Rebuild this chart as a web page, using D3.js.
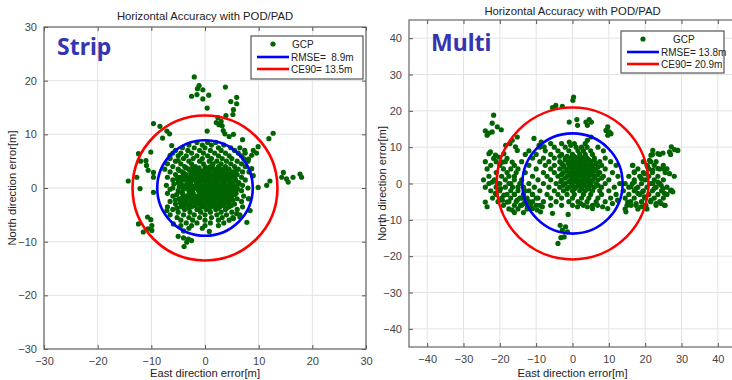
<!DOCTYPE html>
<html>
<head>
<meta charset="utf-8">
<script src="https://cdn.jsdelivr.net/npm/d3@7"></script>
<style>
  body { margin: 0; background: #fff; }
  svg { display: block; font-family: "Liberation Sans", Arial, sans-serif; }
</style>
</head>
<body>
<svg id="chart" width="732" height="380"></svg>
<script>
// ---- data (metres, east / north) ----
const titleText = "Horizontal Accuracy with POD/PAD";
const xLabelText = "East direction error[m]";
const yLabelText = "North direction error[m]";

// Strip: scattered points outside the dense core
const stripOuter = [
  [-2.0, 20.7], [-1.1, 19.1], [-1.4, 18.5], [-0.4, 18.3], [-2.5, 17.1], [-1.5, 17.4],
  [-0.4, 16.6], [0.7, 17.3], [3.8, 18.8], [5.9, 16.9], [4.8, 16.1], [5.9, 15.7],
  [0.4, 14.9], [5.3, 14.6], [5.2, 13.7], [3.9, 13.5], [2.4, 13.1], [3.0, 12.4],
  [2.6, 11.8], [3.2, 11.6], [2.1, 12.2], [-9.6, 12.0], [-8.4, 11.5], [-7.1, 10.6],
  [-6.6, 10.1], [-7.9, 9.3], [0.4, 10.6], [3.4, 10.7], [3.7, 10.1], [5.3, 10.0],
  [4.5, 9.6], [12.7, 10.2], [11.9, 9.2], [7.0, 9.0], [9.9, 7.7], [9.0, 7.0],
  [9.6, 6.5], [8.7, 6.1], [8.1, 5.4], [-6.2, 7.9], [-10.1, 6.7], [-12.4, 6.4],
  [-11.0, 5.1], [-12.0, 5.0], [-6.5, 6.1], [-5.0, 5.1], [7.4, 7.0],
  [-14.3, 1.3], [-12.7, 2.0], [-10.9, 4.2], [-10.6, 3.3], [-9.6, 2.9], [-9.6, 2.0],
  [-12.1, -0.1], [-9.6, -0.8], [-7.1, -4.2], [-12.4, -6.7], [-10.7, -5.4], [-10.1, -5.9],
  [-9.9, -7.0], [-10.6, -7.6], [-11.5, -8.2], [-9.9, -7.9], [-5.9, -6.7], [-5.0, -9.0],
  [-4.0, -9.3], [-3.1, -9.5], [-2.5, -9.8], [-3.4, -10.1], [-3.9, -10.9], [0.8, -8.1],
  [7.8, -6.4], [6.5, -5.4], [5.9, -4.8], [5.3, -5.7], [8.4, -4.2], [8.1, -2.0],
  [9.9, 0.1], [11.5, 0.5], [12.1, 1.3], [14.3, 2.0], [14.6, 2.9], [15.2, 1.7],
  [15.5, 1.1], [16.4, 2.0], [17.7, 2.6], [18.0, 2.0], [8.7, 3.6], [9.0, 2.3]
];

// Strip: dense core, one entry per row [north, [east values]]
const stripCoreRows = [
  [8.5, [-1.5, 0.5, 2.0]],
  [8.0, [-3, -0.5, 1.2, 3.5]],
  [7.5, [-4.2, -2, 0, 2.5, 4.8, 6.5]],
  [7.0, [-5.5, -3.2, -1, 1, 3, 5.5]],
  [6.5, [-6, -4.5, -2.5, -0.3, 1.8, 3.8, 6.2, 7.5]],
  [6.0, [-5, -3.5, -1.5, 0.5, 2.5, 4.5, 6.8]],
  [5.5, [-6.5, -4, -2.2, -0.5, 1.2, 3.2, 5, 7.2]],
  [5.0, [-5.5, -3, -1, 0.8, 2.2, 4, 6, 8]],
  [4.5, [-7, -4.5, -2.5, -0.3, 1.5, 3, 4.8, 6.8]],
  [4.0, [-6, -3.8, -1.8, 0, 1, 2.5, 3.8, 5.5, 7.5]],
  [3.75, [-3.5, -2.3, -1.1, 0.2, 1.4, 2.6, 3.9]],
  [3.5, [-7.5, -5, -3, -1.2, 0.5, 1.8, 3.2, 4.5, 6.2]],
  [3.25, [-4.8, -2.8, -1.6, -0.3, 0.9, 2.1, 3.4, 5.8]],
  [3.0, [-6.5, -4.2, -2.2, -0.5, 1, 2.5, 4, 5.2, 7, 8.2]],
  [2.75, [-3.9, -2.6, -1.2, 0.3, 1.8, 3.3, 4.9]],
  [2.5, [-5.5, -3.5, -1.5, 0, 1.5, 3, 4.5, 6]],
  [2.25, [-4.1, -2.2, -0.6, 0.9, 2.6, 4.1, 5.6]],
  [2.0, [-7, -4.8, -2.8, -1, 0.5, 2, 3.5, 5, 6.8]],
  [1.75, [-5.2, -3.3, -1.4, 0.1, 1.6, 3.1, 4.6]],
  [1.5, [-6, -4, -2, -0.3, 1.2, 2.7, 4.2, 5.7, 7.5]],
  [1.25, [-4.5, -2.6, -0.8, 0.7, 2.3, 3.8, 5.4]],
  [1.0, [-5, -3.2, -1.5, 0, 1.8, 3.2, 4.8, 6.3]],
  [0.75, [-5.8, -3.4, -1.6, 0, 1.5, 3.1, 4.6, 6.2]],
  [0.5, [-7.2, -4.2, -2.5, -0.8, 0.8, 2.3, 3.8, 5.3, 7]],
  [0.25, [-4.8, -2.8, -1, 0.6, 2.2, 3.7, 5.2]],
  [0.0, [-6, -3.5, -1.8, 0, 1.5, 3, 4.5, 6, 8]],
  [-0.25, [-6.5, -4, -2.2, -0.4, 1.2, 2.8, 4.3, 6]],
  [-0.5, [-5, -3, -1.2, 0.5, 2, 3.5, 5.2, 6.8]],
  [-0.75, [-4.8, -2.8, -0.2, 1.6, 3.2, 4.8]],
  [-1.0, [-7, -4.2, -2.2, -0.5, 1.2, 2.7, 4.2, 5.8]],
  [-1.25, [-5.3, -3, -1, 0.6, 2.2, 3.8, 5.5]],
  [-1.5, [-6, -3.5, -1.5, 0, 1.8, 3.3, 5, 7.2]],
  [-1.75, [-4.2, -2.3, -0.6, 1.1, 2.9, 4.4]],
  [-2.0, [-4.8, -2.8, -1, 0.8, 2.3, 3.8, 6, 8.2]],
  [-2.25, [-5.5, -3.5, -1.6, 0.2, 1.8, 3.4, 5.2]],
  [-2.5, [-6.5, -4, -2, -0.3, 1.3, 3, 4.5, 6.8]],
  [-2.75, [-4.6, -2.7, -0.9, 0.9, 2.6, 4.2]],
  [-3.0, [-5.5, -3.2, -1.2, 0.5, 2, 3.6, 5.5]],
  [-3.25, [-3.8, -1.9, -0.1, 1.6, 3.2, 4.9]],
  [-3.5, [-7, -4.5, -2.5, -0.5, 1.2, 2.8, 4.5, 7]],
  [-3.75, [-5.2, -3, -1, 0.8, 2.4, 4]],
  [-4.0, [-6, -3.8, -1.5, 0.2, 2, 3.8, 6]],
  [-4.5, [-5, -2.8, -0.8, 1, 3, 5]],
  [-5.0, [-6.5, -4, -2, 0, 2.2, 4, 6.5]],
  [-5.5, [-5.2, -3, -1, 1.2, 3.2, 5.2]],
  [-6.0, [-4.5, -2.3, 0, 2.5, 4.5]],
  [-6.5, [-3.5, -1.5, 1, 3.5]],
  [-7.0, [-4.5, -2.5, 0, 2.5]],
  [-7.5, [-3, -0.5]],
  [-8.0, [-4]]
];

// Multi: scattered points
const multiOuter = [
  [0.3, 23.8], [0.1, 22.9], [-5.5, 20.9], [-4.6, 21.5], [-2.8, 21.2], [-21.7, 18.8],
  [-22.1, 16.6], [-20.7, 15.6], [-19.6, 14.8], [-24.0, 14.5], [-23.0, 13.9], [-22.1, 14.2],
  [-23.5, 13.3], [-0.9, 16.9], [1.2, 17.6], [1.4, 16.0], [3.7, 16.9], [4.6, 17.6],
  [5.2, 16.9], [4.1, 16.0], [9.7, 15.6], [9.2, 14.6], [10.1, 14.2], [9.7, 13.3],
  [10.6, 13.7], [-15.2, 12.8], [-16.6, 11.9], [-17.2, 11.0], [-18.4, 10.5], [-15.7, 10.1],
  [-15.2, 9.1], [-10.6, 12.4], [-8.6, 11.4], [-9.2, 10.5], [-7.8, 10.1], [-0.9, 11.4],
  [-0.5, 10.5], [4.1, 11.9], [5.1, 12.8], [-22.6, 8.7], [-23.0, 8.2], [-21.2, 7.8],
  [-20.3, 7.3], [-21.7, 6.9], [-18.9, 8.2], [-18.0, 6.9], [-19.3, 5.9], [-16.6, 5.9],
  [22.1, 9.1], [21.6, 7.8], [23.5, 8.2], [24.9, 8.4], [27.2, 10.1], [28.1, 9.3],
  [29.0, 9.1], [26.7, 8.7], [16.6, 5.0], [17.0, 3.2], [21.2, 6.4], [20.7, 4.6],
  [22.1, 3.7], [23.5, 4.1], [24.9, 4.1], [26.7, 2.7], [19.8, 2.7], [18.9, 1.4],
  [-24.0, -5.1], [-23.5, -6.4], [-22.1, 0.4], [-20.7, 0.0], [-19.8, -1.4], [-21.2, -2.7],
  [-18.9, -3.2], [-19.3, -4.6], [-18.0, -5.1], [-16.6, -7.3], [-15.2, -4.6], [-14.3, -6.0],
  [-13.4, -5.5], [-12.4, -6.4], [-11.0, -6.9], [-9.7, -7.3], [-8.3, -6.4], [-8.8, -7.8],
  [-5.5, -8.2], [-1.2, -8.5], [-3.4, -11.5], [-1.9, -11.9], [-2.8, -12.8], [-1.4, -13.3],
  [-2.3, -14.7], [-3.2, -14.9], [-4.0, -16.5], [14.7, -7.8], [15.2, -5.1], [16.1, -6.0],
  [17.5, -5.5], [18.9, -6.4], [20.2, -6.0], [21.6, -4.6], [23.0, -5.5], [24.4, -5.5],
  [25.3, -6.0], [27.2, -1.8], [27.6, -2.3], [25.3, -2.7], [24.9, -1.4], [24.4, -0.5],
  [23.5, 0.4], [22.1, 0.0], [22.5, -1.4], [17.0, 0.4], [16.1, -0.9], [17.5, -1.4],
  [18.0, -2.7], [19.3, -2.3], [19.8, -3.7], [12.4, -4.6], [8.3, -6.4], [9.7, -6.9],
  [11.0, -5.5], [4.1, -6.4], [5.5, -6.9], [6.9, -6.0], [1.4, -6.4], [2.3, -5.5]
];

// Multi: central cluster rows [north, [east values]]
const multiCoreRows = [
  [11, [-6, -3, 0.5, 3.5]],
  [10, [-9, -5, -2, 1, 2.5, 4, 7]],
  [9, [-12, -7.5, -4, -1, 1.5, 3, 5, 8.5]],
  [8, [-13, -10, -6, -3, 0, 2, 3.5, 5.5]],
  [7.5, [-3.5, -1.5, 0.5, 2, 3.5]],
  [7, [-11, -8, -5, -2, -0.5, 1, 2.5, 4, 6, 9]],
  [6.5, [-2, 0, 1.5, 3, 4.5, 6]],
  [6, [-14, -9, -6.5, -3.5, -1, 0.5, 2, 3.5, 5, 7.5, 10.5]],
  [5.5, [-3, -1.2, 0.2, 1.8, 3.2, 4.8, 6.5]],
  [5, [-12, -7.5, -5, -2.5, -0.5, 1, 2.5, 4, 5.5, 8, 12]],
  [4.5, [-2.5, -0.8, 0.8, 2.2, 3.8, 5.2, 7]],
  [4, [-15, -10, -6, -3.5, -1.5, 0, 1.5, 3, 4.5, 6, 9]],
  [3.5, [-1.5, 0.2, 1.8, 3.2, 4.8, 6.5]],
  [3, [-13, -8, -5, -2.5, -0.5, 1, 2.5, 4, 5.5, 7.5, 11]],
  [2.5, [-3, -1, 0.5, 2, 3.5, 5, 7]],
  [2, [-16, -11, -7, -4, -1.5, 0, 1.5, 3, 4.5, 6, 8.5, 12.5]],
  [1.5, [-2, -0.2, 1.2, 2.8, 4.2, 6, 8]],
  [1, [-14, -9.5, -6, -3, -0.5, 1, 2.5, 4, 5.5, 7, 10]],
  [0.5, [-3.2, -1, 0.5, 2, 3.5, 5.2]],
  [0, [-17, -12, -8, -4.5, -2, 0, 1.5, 3, 4.5, 6.5, 9, 13]],
  [-0.5, [-2.5, -0.2, 1.8, 3.2, 5, 7]],
  [-1, [-15, -10.5, -6.5, -3.5, -1, 1, 2.5, 4, 6, 8, 11.5]],
  [-1.5, [-1.5, 0.5, 2.5, 4.5]],
  [-2, [-13, -9, -5, -2.5, 0, 2, 3.5, 5.5, 7.5, 10]],
  [-3, [-16, -11, -7, -4, -1.5, 0.5, 3, 5, 8, 12]],
  [-4, [-14, -9.5, -6, -3, 0, 2.5, 4.5, 7, 10.5]],
  [-5, [-12, -8, -4.5, -1, 1.5, 4, 6.5, 9]],
  [-6, [-10, -6, -3, 0, 3, 5.5]]
];

// Multi: west band rows
const multiWestRows = [
  [6, [-24, -21, -18.5]],
  [5, [-22.5, -20, -16]],
  [4, [-23.5, -19, -17]],
  [3, [-21, -18, -15.5]],
  [2, [-23, -19.5, -17.5]],
  [1, [-24.5, -21.5, -18.5, -16]],
  [0, [-23, -20, -17.5, -14.5]],
  [-1, [-24, -21, -18.5, -16.5, -13.5]],
  [-2, [-22.5, -20, -17, -15, -12]],
  [-3, [-21, -18, -16, -13.5, -11]],
  [-4, [-22, -19.5, -17, -14.5, -12.5, -10]],
  [-5, [-20.5, -17.5, -15.5, -13, -11]],
  [-6, [-19, -16, -14, -11.5, -9]],
  [-7, [-17.5, -15, -12.5]],
  [-8, [-16, -13.5]]
];

// Multi: east band rows
const multiEastRows = [
  [8, [22, 24, 27]],
  [6, [19.5, 21.5, 23]],
  [5, [16.5, 20.5, 22.5, 25]],
  [4, [18, 21, 24, 26]],
  [3, [17, 19.5, 22, 25.5]],
  [2, [15.5, 18.5, 21, 23.5, 28]],
  [1, [17, 20, 22.5, 25]],
  [0, [14.5, 16.5, 19, 21.5, 24]],
  [-1, [15.5, 18, 20.5, 23, 26]],
  [-2, [14, 17, 19.5, 22, 24.5, 27]],
  [-3, [15.5, 18.5, 21, 23.5, 26]],
  [-4, [14.5, 17, 20, 22.5, 25]],
  [-5, [16, 19, 21.5, 24]],
  [-6, [15, 17.5, 20, 23, 25.5]],
  [-7, [14.5, 18, 20.5]]
];

const stripStats = { rmse: 8.9, ce90: 13.5 };
const multiStats = { rmse: 13.8, ce90: 20.9 };
const stripTicks = [-30, -20, -10, 0, 10, 20, 30];
const multiTicks = [-40, -30, -20, -10, 0, 10, 20, 30, 40];

function fromRows(rows) {
  const out = [];
  rows.forEach(([n, es]) => es.forEach((e) => out.push([e, n])));
  return out;
}

const stripPoints = stripOuter.concat(fromRows(stripCoreRows));
const multiPoints = multiOuter.concat(
  fromRows(multiCoreRows), fromRows(multiWestRows), fromRows(multiEastRows));

const svg = d3.select("#chart");

function drawPanel(p) {
  const x = d3.scaleLinear().domain(p.domain).range([p.left, p.left + p.size]);
  const y = d3.scaleLinear().domain(p.domain).range([p.top + p.size, p.top]);
  const g = svg.append("g");

  // plot background
  g.append("rect")
    .attr("x", p.left).attr("y", p.top)
    .attr("width", p.size).attr("height", p.size)
    .attr("fill", "#fff");

  // grid
  g.append("g").selectAll("line")
    .data(p.ticks)
    .join("line")
    .attr("x1", (d) => x(d)).attr("x2", (d) => x(d))
    .attr("y1", p.top).attr("y2", p.top + p.size)
    .attr("stroke", "#e3e3e3").attr("stroke-width", 1);
  g.append("g").selectAll("line")
    .data(p.ticks)
    .join("line")
    .attr("y1", (d) => y(d)).attr("y2", (d) => y(d))
    .attr("x1", p.left).attr("x2", p.left + p.size)
    .attr("stroke", "#e3e3e3").attr("stroke-width", 1);

  // points
  g.append("g").selectAll("circle")
    .data(p.points)
    .join("circle")
    .attr("cx", (d) => x(d[0]))
    .attr("cy", (d) => y(d[1]))
    .attr("r", 2.6)
    .attr("fill", "#006400");

  // RMSE and CE90 circles
  const rr = (v) => x(v) - x(0);
  g.append("circle")
    .attr("cx", x(0)).attr("cy", y(0)).attr("r", rr(p.stats.rmse))
    .attr("fill", "none").attr("stroke", "#0000ff").attr("stroke-width", 2.6);
  g.append("circle")
    .attr("cx", x(0)).attr("cy", y(0)).attr("r", rr(p.stats.ce90))
    .attr("fill", "none").attr("stroke", "#ff0000").attr("stroke-width", 2.6);

  // axes, ticks pointing inwards
  const styleAxis = (sel) => {
    sel.select(".domain").remove();
    sel.selectAll(".tick line").attr("stroke", "#555");
    sel.selectAll(".tick text")
      .attr("fill", "#444")
      .style("font-size", "11px")
      .style("font-family", "'Liberation Sans', Arial, sans-serif");
  };
  g.append("g")
    .attr("transform", `translate(0,${p.top + p.size})`)
    .call(d3.axisBottom(x).tickValues(p.ticks).tickSize(-4).tickPadding(8))
    .call(styleAxis);
  g.append("g")
    .attr("transform", `translate(${p.left},0)`)
    .call(d3.axisLeft(y).tickValues(p.ticks).tickSize(-4).tickPadding(7))
    .call(styleAxis);
  g.append("g")
    .attr("transform", `translate(0,${p.top})`)
    .call(d3.axisTop(x).tickValues(p.ticks).tickSize(-4).tickFormat(""))
    .call(styleAxis);
  g.append("g")
    .attr("transform", `translate(${p.left + p.size},0)`)
    .call(d3.axisRight(y).tickValues(p.ticks).tickSize(-4).tickFormat(""))
    .call(styleAxis);

  // box
  g.append("rect")
    .attr("x", p.left).attr("y", p.top)
    .attr("width", p.size).attr("height", p.size)
    .attr("fill", "none").attr("stroke", "#666").attr("stroke-width", 1.2);

  // titles and labels
  g.append("text")
    .attr("x", p.left + p.size / 2).attr("y", p.titleY)
    .attr("text-anchor", "middle")
    .attr("fill", "#222").style("font-size", "11.3px")
    .text(titleText);
  g.append("text")
    .attr("x", p.left + p.size / 2).attr("y", 377)
    .attr("text-anchor", "middle")
    .attr("fill", "#222").style("font-size", "11.2px")
    .text(xLabelText);
  g.append("text")
    .attr("transform", `translate(${p.yLabelX},${p.top + p.size / 2}) rotate(-90)`)
    .attr("text-anchor", "middle")
    .attr("fill", "#222").style("font-size", "11.2px")
    .text(yLabelText);

  // big panel name
  g.append("text")
    .attr("x", p.nameX).attr("y", p.nameY)
    .attr("fill", "#3535b0")
    .style("font-family", "'Noto Sans', 'Open Sans', sans-serif")
    .style("font-weight", "bold")
    .style("font-size", "23px")
    .text(p.name);

  // legend
  const L = p.legend;
  const lg = g.append("g").attr("transform", `translate(${L.x},${L.y})`);
  lg.append("rect")
    .attr("width", L.w).attr("height", L.h)
    .attr("fill", "#fff").attr("stroke", "#555").attr("stroke-width", 1.2);
  lg.append("circle")
    .attr("cx", 22).attr("cy", 8).attr("r", 2.6).attr("fill", "#006400");
  lg.append("line")
    .attr("x1", 6).attr("x2", 38).attr("y1", 21).attr("y2", 21)
    .attr("stroke", "#0000ff").attr("stroke-width", 2.6);
  lg.append("line")
    .attr("x1", 6).attr("x2", 38).attr("y1", 33).attr("y2", 33)
    .attr("stroke", "#ff0000").attr("stroke-width", 2.6);
  const labels = [
    ["GCP", L.gcpX, 8],
    [p.rmseLabel, 40, 21],
    [p.ceLabel, 40, 33]
  ];
  lg.selectAll("text.leg")
    .data(labels)
    .join("text")
    .attr("class", "leg")
    .attr("x", (d) => d[1]).attr("y", (d) => d[2])
    .attr("dy", "0.35em")
    .attr("fill", "#222")
    .style("font-size", "10px")
    .style("white-space", "pre")
    .text((d) => d[0]);
}

drawPanel({
  name: "Strip", nameX: 57, nameY: 55,
  domain: [-30, 30], ticks: stripTicks,
  left: 44, top: 27, size: 322,
  points: stripPoints, stats: stripStats,
  titleY: 20, yLabelX: 16,
  rmseLabel: "RMSE=  8.9m", ceLabel: "CE90= 13.5m",
  legend: { x: 251, y: 36, w: 112, h: 43, gcpX: 41 }
});

drawPanel({
  name: "Multi", nameX: 431, nameY: 51,
  domain: [-45, 45], ticks: multiTicks,
  left: 409, top: 20, size: 327,
  points: multiPoints, stats: multiStats,
  titleY: 15, yLabelX: 386,
  rmseLabel: "RMSE= 13.8m", ceLabel: "CE90= 20.9m",
  legend: { x: 621, y: 31, w: 103, h: 42, gcpX: 52 }
});
</script>
</body>
</html>
